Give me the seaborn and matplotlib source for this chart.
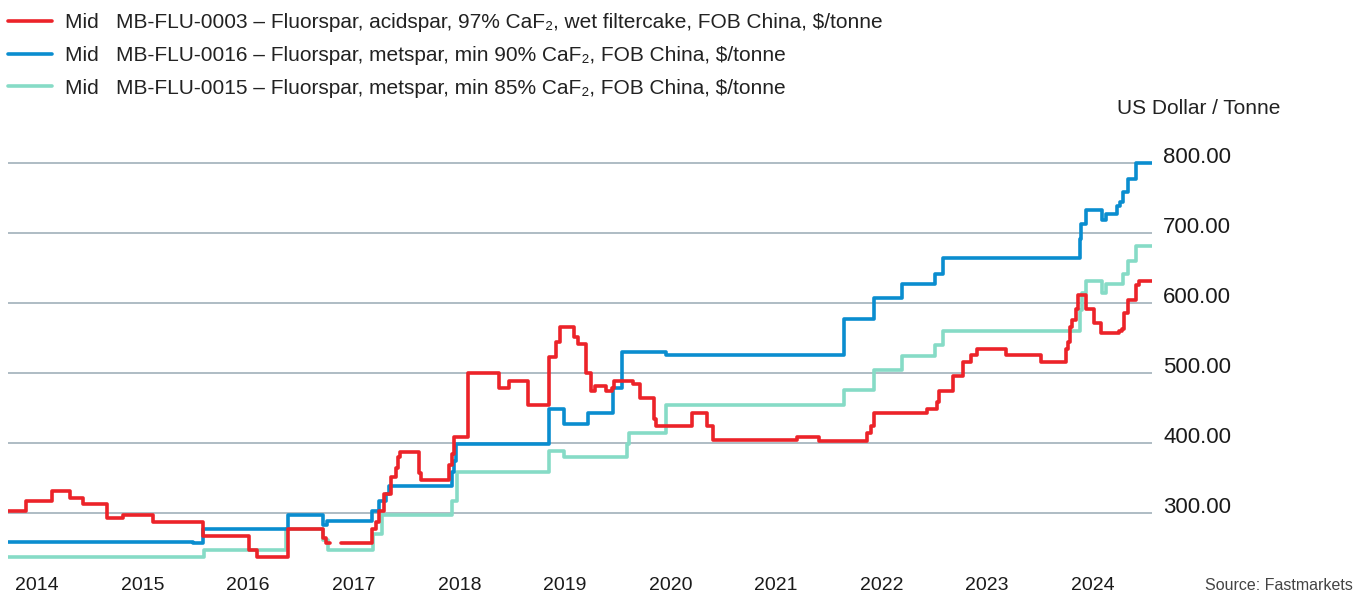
import matplotlib
matplotlib.use("Agg")
import matplotlib.pyplot as plt
import seaborn as sns
import pandas as pd

# step series: date (decimal year) at which a price becomes valid, and the price
acid_t = [2013.725, 2013.896, 2014.139, 2014.312, 2014.436, 2014.663, 2014.814, 2015.098,
          2015.569, 2016.005, 2016.083, 2016.374, 2016.705, 2016.74, 2016.775]
acid_v = [303, 318, 332, 322, 313, 293, 297, 288,
          267, 247, 237, 278, 265, 258, 258]
acid2_t = [2016.879, 2017.172, 2017.21, 2017.239, 2017.286, 2017.352, 2017.40, 2017.419,
           2017.438, 2017.617, 2017.636, 2017.902, 2017.93, 2017.949, 2018.079, 2018.375,
           2018.47, 2018.65, 2018.848, 2018.915, 2018.953, 2019.085, 2019.12, 2019.199,
           2019.246, 2019.284, 2019.388, 2019.442, 2019.464, 2019.641, 2019.71, 2019.84,
           2019.862, 2020.20, 2020.351, 2020.408, 2021.197, 2021.405, 2021.86, 2021.898,
           2021.926, 2022.428, 2022.529, 2022.542, 2022.681, 2022.775, 2022.845, 2022.908,
           2023.176, 2023.508, 2023.744, 2023.763, 2023.782, 2023.80, 2023.839, 2023.858,
           2023.934, 2024.009, 2024.082, 2024.246, 2024.281, 2024.294, 2024.332, 2024.413,
           2024.441, 2024.562]
acid2_v = [257, 278, 288, 303, 328, 352, 364, 380,
           388, 358, 347, 369, 385, 409, 500, 479.5,
           489, 454, 523, 545, 566, 551, 541, 500,
           475, 481, 475, 479, 489, 485, 465, 435,
           424, 443, 424, 404, 409, 403, 414, 424,
           443, 449.5, 459, 475, 496, 516, 526, 535,
           526, 516, 534, 545, 566, 576, 592, 611,
           591, 571, 557, 560, 563, 586, 605, 626,
           632, 632]

met90_t = [2013.725, 2015.48, 2015.569, 2016.374, 2016.709, 2016.747, 2017.172, 2017.24,
           2017.31, 2017.33, 2017.927, 2017.95, 2017.968, 2018.85, 2018.99, 2019.215,
           2019.457, 2019.546, 2019.956, 2021.645, 2021.93, 2022.197, 2022.504, 2022.586,
           2023.88, 2023.89, 2023.934, 2024.09, 2024.122, 2024.235, 2024.26, 2024.29,
           2024.33, 2024.41, 2024.562]
met90_v = [259, 257, 277, 297, 283, 289, 303, 318,
           328, 339, 359, 375, 398.6, 449.5, 428, 443,
           479.5, 530, 526, 578, 607, 627, 642, 664,
           691, 713, 733, 718, 727, 739, 744, 759,
           777, 800, 800]

met85_t = [2013.725, 2015.578, 2016.357, 2016.705, 2016.76, 2017.18, 2017.27, 2017.935,
           2017.98, 2018.85, 2018.99, 2019.587, 2019.61, 2019.956, 2021.645, 2021.93,
           2022.197, 2022.504, 2022.586, 2023.88, 2023.9, 2023.934, 2024.09, 2024.122,
           2024.29, 2024.33, 2024.41, 2024.562]
met85_v = [237.6, 247, 278, 262, 247, 270, 297, 318,
           359, 389, 380.6, 398.6, 414, 454, 476, 505,
           524, 540, 560.5, 590, 615, 632, 615, 627,
           641, 660, 681, 681]

labels = [
    "Mid   MB-FLU-0003 \u2013 Fluorspar, acidspar, 97% CaF\u2082, wet filtercake, FOB China, $/tonne",
    "Mid   MB-FLU-0016 \u2013 Fluorspar, metspar, min 90% CaF\u2082, FOB China, $/tonne",
    "Mid   MB-FLU-0015 \u2013 Fluorspar, metspar, min 85% CaF\u2082, FOB China, $/tonne",
]
years = list(range(2014, 2025))
yticks = [300, 400, 500, 600, 700, 800]

red = "#EC2329"
blue = "#0A8DCF"
teal = "#86DBC6"
grid_col = "#98AAB4"

sns.set_theme(style="white")
plt.rcParams["font.family"] = ["Liberation Sans", "DejaVu Sans"]

fig = plt.figure(figsize=(13.54, 5.94), dpi=100)
ax = fig.add_axes([8 / 1354, 1 - 570 / 594, 1144 / 1354, (570 - 152.5) / 594])

for y in yticks:
    ax.axhline(y, color=grid_col, lw=1.1, zorder=0)

lw = 2.6
sns.lineplot(x=met85_t, y=met85_v, drawstyle="steps-post", color=teal, lw=lw, ax=ax,
             sort=False, estimator=None, label=labels[2])
sns.lineplot(x=met90_t, y=met90_v, drawstyle="steps-post", color=blue, lw=lw, ax=ax,
             sort=False, estimator=None, label=labels[1])
sns.lineplot(x=acid_t, y=acid_v, drawstyle="steps-post", color=red, lw=lw, ax=ax,
             sort=False, estimator=None, label=labels[0])
sns.lineplot(x=acid2_t, y=acid2_v, drawstyle="steps-post", color=red, lw=lw, ax=ax,
             sort=False, estimator=None)

ax.set_xlim(2013.725, 2024.562)
ax.set_ylim(219, 815)
for s in ax.spines.values():
    s.set_visible(False)

ax.set_xticks(years)
ax.set_xticklabels([str(y) for y in years], fontsize=14, color="#1a1a1a")
ax.tick_params(axis="x", length=0, pad=5)
ax.yaxis.tick_right()
ax.set_yticks(yticks)
ax.set_yticklabels([f"{y:.2f}" for y in yticks], fontsize=16, color="#1a1a1a")
ax.tick_params(axis="y", length=0, pad=8)
for t in ax.get_yticklabels():
    t.set_va("baseline")
ax.set_xlabel("")
ax.set_ylabel("")

handles, labs = ax.get_legend_handles_labels()
order = [labs.index(l) for l in labels]
ax.legend([handles[i] for i in order], labels, loc="upper left",
          bbox_to_anchor=(4 / 1354, 1 - 9 / 594), bbox_transform=fig.transFigure,
          frameon=False, fontsize=15, handlelength=2.1, handletextpad=0.65,
          labelspacing=0.66, borderaxespad=0, borderpad=0.2, labelcolor="#222222")

fig.text(1117 / 1354, 1 - 108 / 594, "US Dollar / Tonne", fontsize=15, color="#222222",
         va="center", ha="left")
fig.text(1353 / 1354, 1 - 585 / 594, "Source: Fastmarkets", fontsize=11.5, color="#444444",
         va="center", ha="right")

plt.savefig("out.png", dpi=100)
